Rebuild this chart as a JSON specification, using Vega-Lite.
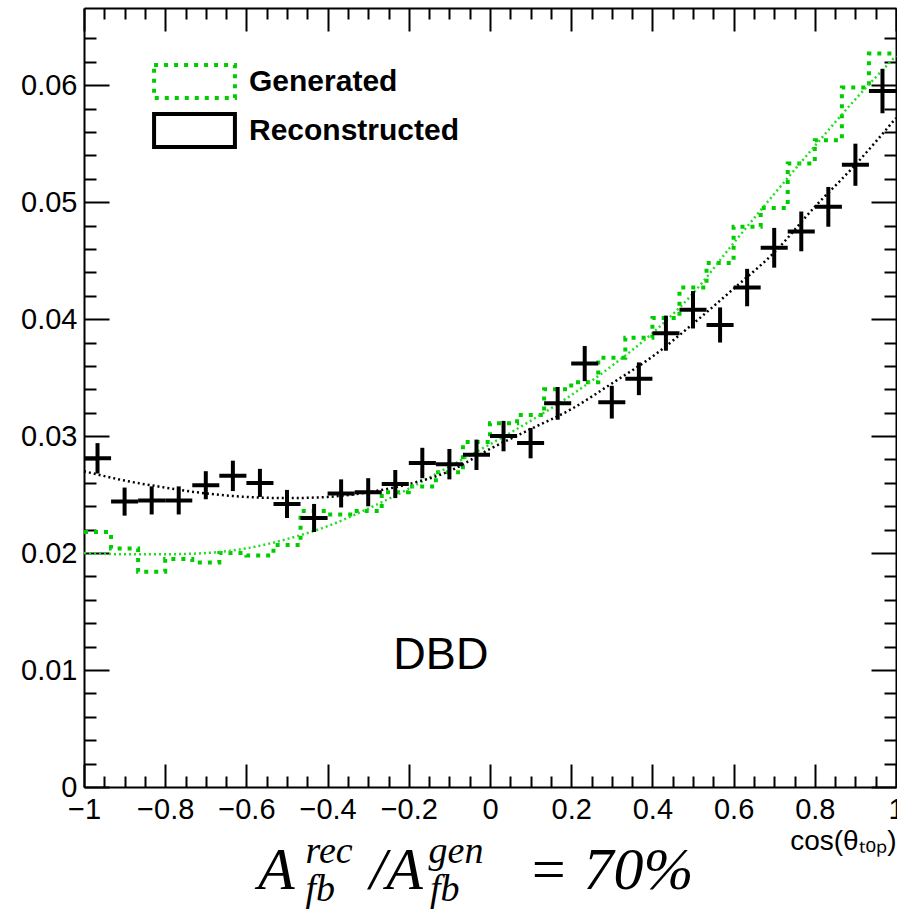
{
  "$schema": "https://vega.github.io/schema/vega-lite/v6.json",
  "width": 812,
  "height": 779,
  "autosize": {"type": "none"},
  "padding": {"left": 84, "top": 8, "right": 1, "bottom": 123},
  "background": "white",
  "config": {
    "view": {"stroke": null},
    "axis": {"labelFont": "Liberation Sans", "titleFont": "Liberation Sans", "labelColor": "black", "titleColor": "black", "domainColor": "black", "tickColor": "black", "domainWidth": 2, "tickWidth": 2, "grid": false, "labelFlush": false, "labelOverlap": false, "labelBound": false}
  },
  "title": {
    "text": "A\u2003\u00a0/A\u2003\u2002\u00a0=\u00a070%",
    "subtitle": ["\u200b\u2003\u00a0rec\u2003\u2003gen", "\u200b\u2003\u00a0fb\u2003\u2003\u2002fb"],
    "orient": "bottom",
    "anchor": "start",
    "frame": "group",
    "dx": 174,
    "offset": -13,
    "font": "Liberation Serif",
    "fontStyle": "italic",
    "fontWeight": "normal",
    "fontSize": 60,
    "color": "black",
    "subtitleFont": "Liberation Serif",
    "subtitleFontStyle": "italic",
    "subtitleFontWeight": "normal",
    "subtitleFontSize": 38,
    "subtitleLineHeight": 38,
    "subtitleColor": "black",
    "subtitlePadding": -69
  },
  "datasets": {
    "gen": [
      {"lo": -1, "v": 0.0218}, {"lo": -0.9333, "v": 0.0204}, {"lo": -0.8667, "v": 0.0184}, {"lo": -0.8, "v": 0.0195},
      {"lo": -0.7333, "v": 0.0192}, {"lo": -0.6667, "v": 0.0200}, {"lo": -0.6, "v": 0.0198}, {"lo": -0.5333, "v": 0.0207},
      {"lo": -0.4667, "v": 0.0236}, {"lo": -0.4, "v": 0.0233}, {"lo": -0.3333, "v": 0.0236}, {"lo": -0.2667, "v": 0.0252},
      {"lo": -0.2, "v": 0.0257}, {"lo": -0.1333, "v": 0.0269}, {"lo": -0.0667, "v": 0.0295}, {"lo": 0, "v": 0.0311},
      {"lo": 0.0667, "v": 0.0318}, {"lo": 0.1333, "v": 0.0340}, {"lo": 0.2, "v": 0.0346}, {"lo": 0.2667, "v": 0.0367},
      {"lo": 0.3333, "v": 0.0384}, {"lo": 0.4, "v": 0.0401}, {"lo": 0.4667, "v": 0.0427}, {"lo": 0.5333, "v": 0.0448},
      {"lo": 0.6, "v": 0.0479}, {"lo": 0.6667, "v": 0.0495}, {"lo": 0.7333, "v": 0.0533}, {"lo": 0.8, "v": 0.0553},
      {"lo": 0.8667, "v": 0.0598}, {"lo": 0.9333, "v": 0.0627}, {"lo": 1, "v": 0.0627}
    ],
    "genfit": [
      {"c": -1, "v": 0.0200}, {"c": -0.9, "v": 0.0199}, {"c": -0.8, "v": 0.0199}, {"c": -0.7, "v": 0.0200},
      {"c": -0.6, "v": 0.0204}, {"c": -0.5, "v": 0.0212}, {"c": -0.4, "v": 0.0223}, {"c": -0.3, "v": 0.0238},
      {"c": -0.2, "v": 0.0255}, {"c": -0.1, "v": 0.0274}, {"c": 0, "v": 0.0293}, {"c": 0.1, "v": 0.0313},
      {"c": 0.2, "v": 0.0335}, {"c": 0.3, "v": 0.0360}, {"c": 0.4, "v": 0.0388}, {"c": 0.5, "v": 0.0422},
      {"c": 0.6, "v": 0.0465}, {"c": 0.7, "v": 0.0507}, {"c": 0.8, "v": 0.0548}, {"c": 0.9, "v": 0.0588},
      {"c": 1, "v": 0.0625}
    ],
    "recfit": [
      {"c": -1, "v": 0.0270}, {"c": -0.9, "v": 0.0262}, {"c": -0.8, "v": 0.0256}, {"c": -0.7, "v": 0.0251},
      {"c": -0.6, "v": 0.0248}, {"c": -0.5, "v": 0.0247}, {"c": -0.4, "v": 0.0248}, {"c": -0.3, "v": 0.0252},
      {"c": -0.2, "v": 0.0259}, {"c": -0.1, "v": 0.0270}, {"c": 0, "v": 0.0289}, {"c": 0.1, "v": 0.0306},
      {"c": 0.2, "v": 0.0323}, {"c": 0.3, "v": 0.0345}, {"c": 0.4, "v": 0.0368}, {"c": 0.5, "v": 0.0396},
      {"c": 0.6, "v": 0.0426}, {"c": 0.7, "v": 0.0457}, {"c": 0.8, "v": 0.0496}, {"c": 0.9, "v": 0.0532},
      {"c": 1, "v": 0.0572}
    ],
    "rec": [
      {"lo": -1, "hi": -0.9333, "c": -0.9667, "v": 0.0281, "ylo": 0.0268, "yhi": 0.0294},
      {"lo": -0.9333, "hi": -0.8667, "c": -0.9, "v": 0.0244, "ylo": 0.0232, "yhi": 0.0256},
      {"lo": -0.8667, "hi": -0.8, "c": -0.8333, "v": 0.0245, "ylo": 0.0233, "yhi": 0.0257},
      {"lo": -0.8, "hi": -0.7333, "c": -0.7667, "v": 0.0245, "ylo": 0.0233, "yhi": 0.0257},
      {"lo": -0.7333, "hi": -0.6667, "c": -0.7, "v": 0.0258, "ylo": 0.0246, "yhi": 0.0270},
      {"lo": -0.6667, "hi": -0.6, "c": -0.6333, "v": 0.0266, "ylo": 0.0253, "yhi": 0.0279},
      {"lo": -0.6, "hi": -0.5333, "c": -0.5667, "v": 0.0260, "ylo": 0.0248, "yhi": 0.0272},
      {"lo": -0.5333, "hi": -0.4667, "c": -0.5, "v": 0.0242, "ylo": 0.0230, "yhi": 0.0254},
      {"lo": -0.4667, "hi": -0.4, "c": -0.4333, "v": 0.0230, "ylo": 0.0218, "yhi": 0.0242},
      {"lo": -0.4, "hi": -0.3333, "c": -0.3667, "v": 0.0251, "ylo": 0.0239, "yhi": 0.0263},
      {"lo": -0.3333, "hi": -0.2667, "c": -0.3, "v": 0.0252, "ylo": 0.0240, "yhi": 0.0264},
      {"lo": -0.2667, "hi": -0.2, "c": -0.2333, "v": 0.0259, "ylo": 0.0247, "yhi": 0.0271},
      {"lo": -0.2, "hi": -0.1333, "c": -0.1667, "v": 0.0277, "ylo": 0.0264, "yhi": 0.0290},
      {"lo": -0.1333, "hi": -0.0667, "c": -0.1, "v": 0.0276, "ylo": 0.0263, "yhi": 0.0289},
      {"lo": -0.0667, "hi": 0, "c": -0.0333, "v": 0.0284, "ylo": 0.0271, "yhi": 0.0297},
      {"lo": 0, "hi": 0.0667, "c": 0.0333, "v": 0.0300, "ylo": 0.0287, "yhi": 0.0313},
      {"lo": 0.0667, "hi": 0.1333, "c": 0.1, "v": 0.0294, "ylo": 0.0281, "yhi": 0.0307},
      {"lo": 0.1333, "hi": 0.2, "c": 0.1667, "v": 0.0328, "ylo": 0.0314, "yhi": 0.0342},
      {"lo": 0.2, "hi": 0.2667, "c": 0.2333, "v": 0.0362, "ylo": 0.0347, "yhi": 0.0377},
      {"lo": 0.2667, "hi": 0.3333, "c": 0.3, "v": 0.0329, "ylo": 0.0315, "yhi": 0.0343},
      {"lo": 0.3333, "hi": 0.4, "c": 0.3667, "v": 0.0349, "ylo": 0.0335, "yhi": 0.0363},
      {"lo": 0.4, "hi": 0.4667, "c": 0.4333, "v": 0.0388, "ylo": 0.0373, "yhi": 0.0403},
      {"lo": 0.4667, "hi": 0.5333, "c": 0.5, "v": 0.0408, "ylo": 0.0392, "yhi": 0.0424},
      {"lo": 0.5333, "hi": 0.6, "c": 0.5667, "v": 0.0395, "ylo": 0.0380, "yhi": 0.0410},
      {"lo": 0.6, "hi": 0.6667, "c": 0.6333, "v": 0.0427, "ylo": 0.0411, "yhi": 0.0443},
      {"lo": 0.6667, "hi": 0.7333, "c": 0.7, "v": 0.0461, "ylo": 0.0444, "yhi": 0.0478},
      {"lo": 0.7333, "hi": 0.8, "c": 0.7667, "v": 0.0475, "ylo": 0.0458, "yhi": 0.0492},
      {"lo": 0.8, "hi": 0.8667, "c": 0.8333, "v": 0.0496, "ylo": 0.0479, "yhi": 0.0513},
      {"lo": 0.8667, "hi": 0.9333, "c": 0.9, "v": 0.0532, "ylo": 0.0514, "yhi": 0.0550},
      {"lo": 0.9333, "hi": 1, "c": 0.9667, "v": 0.0595, "ylo": 0.0576, "yhi": 0.0614}
    ],
    "ann": [{"x": -0.121, "y": 0.0113, "label": "DBD"}]
  },
  "layer": [
    {
      "data": {"name": "gen"},
      "mark": {"type": "line", "interpolate": "step-after", "strokeWidth": 4, "strokeCap": "butt"},
      "encoding": {
        "x": {"field": "lo", "type": "quantitative", "scale": {"domain": [-1, 1], "nice": false, "zero": false},
          "axis": {"orient": "bottom", "values": [-1, -0.8, -0.6, -0.4, -0.2, 0, 0.2, 0.4, 0.6, 0.8, 1], "format": "~g", "ticks": false, "domain": true, "labelFontSize": 29, "labelPadding": 8, "title": "cos(θₜₒₚ)", "titleAnchor": "end", "titleFontSize": 28, "titleFontWeight": "normal", "titlePadding": 3}},
        "y": {"field": "v", "type": "quantitative", "scale": {"domain": [0, 0.0666], "nice": false, "zero": false},
          "axis": {"orient": "left", "values": [0, 0.01, 0.02, 0.03, 0.04, 0.05, 0.06], "format": "~g", "ticks": false, "domain": true, "labelFontSize": 29, "labelPadding": 7, "title": null}},
        "color": {"datum": "Generated", "scale": {"domain": ["Generated", "Reconstructed"], "range": ["#00cc00", "black"]},
          "legend": {"orient": "none", "legendX": 92, "legendY": 55, "title": null, "padding": 0, "symbolType": "M-2.45,-1H2.45V1H-2.45Z", "symbolSize": 1089, "symbolStrokeWidth": 4, "symbolFillColor": "transparent", "labelFont": "Liberation Sans", "labelFontWeight": "bold", "labelFontSize": 30, "labelColor": "black", "labelOffset": 36, "labelLimit": 0, "rowPadding": 0}},
        "strokeDash": {"datum": "Generated", "scale": {"domain": ["Generated", "Reconstructed"], "range": [[4, 6], [1, 0]]}}
      }
    },
    {
      "data": {"name": "genfit"},
      "mark": {"type": "line", "interpolate": "monotone", "color": "#22dd22", "strokeWidth": 2.5, "strokeDash": [2, 3]},
      "encoding": {
        "x": {"field": "c", "type": "quantitative", "scale": {"domain": [-1, 1], "nice": false, "zero": false},
          "axis": {"orient": "bottom", "values": [-1, -0.8, -0.6, -0.4, -0.2, 0, 0.2, 0.4, 0.6, 0.8, 1], "labels": false, "domain": false, "tickSize": -23, "title": null}},
        "y": {"field": "v", "type": "quantitative", "scale": {"domain": [0, 0.0666], "nice": false, "zero": false},
          "axis": {"orient": "left", "values": [0, 0.01, 0.02, 0.03, 0.04, 0.05, 0.06], "labels": false, "domain": false, "tickSize": -25, "title": null}}
      }
    },
    {
      "data": {"name": "recfit"},
      "mark": {"type": "line", "interpolate": "monotone", "color": "black", "strokeWidth": 2.5, "strokeDash": [2, 3]},
      "encoding": {
        "x": {"field": "c", "type": "quantitative", "scale": {"domain": [-1, 1], "nice": false, "zero": false},
          "axis": {"orient": "bottom", "values": [-0.95, -0.9, -0.85, -0.75, -0.7, -0.65, -0.55, -0.5, -0.45, -0.35, -0.3, -0.25, -0.15, -0.1, -0.05, 0.05, 0.1, 0.15, 0.25, 0.3, 0.35, 0.45, 0.5, 0.55, 0.65, 0.7, 0.75, 0.85, 0.9, 0.95], "labels": false, "domain": false, "tickSize": -11, "title": null}},
        "y": {"field": "v", "type": "quantitative", "scale": {"domain": [0, 0.0666], "nice": false, "zero": false},
          "axis": {"orient": "left", "values": [0.002, 0.004, 0.006, 0.008, 0.012, 0.014, 0.016, 0.018, 0.022, 0.024, 0.026, 0.028, 0.032, 0.034, 0.036, 0.038, 0.042, 0.044, 0.046, 0.048, 0.052, 0.054, 0.056, 0.058, 0.062, 0.064], "labels": false, "domain": false, "tickSize": -12, "title": null}}
      }
    },
    {
      "data": {"name": "rec"},
      "mark": {"type": "rule", "color": "black", "strokeWidth": 4},
      "encoding": {
        "x": {"field": "c", "type": "quantitative", "scale": {"domain": [-1, 1], "nice": false, "zero": false},
          "axis": {"orient": "top", "values": [-1, -0.8, -0.6, -0.4, -0.2, 0, 0.2, 0.4, 0.6, 0.8, 1], "labels": false, "domain": true, "tickSize": -23, "title": null}},
        "y": {"field": "ylo", "type": "quantitative", "scale": {"domain": [0, 0.0666], "nice": false, "zero": false},
          "axis": {"orient": "right", "values": [0, 0.01, 0.02, 0.03, 0.04, 0.05, 0.06], "labels": false, "domain": true, "tickSize": -25, "title": null}},
        "y2": {"field": "yhi"}
      }
    },
    {
      "data": {"name": "rec"},
      "mark": {"type": "rule", "strokeWidth": 4},
      "encoding": {
        "x": {"field": "lo", "type": "quantitative", "scale": {"domain": [-1, 1], "nice": false, "zero": false},
          "axis": {"orient": "top", "values": [-0.95, -0.9, -0.85, -0.75, -0.7, -0.65, -0.55, -0.5, -0.45, -0.35, -0.3, -0.25, -0.15, -0.1, -0.05, 0.05, 0.1, 0.15, 0.25, 0.3, 0.35, 0.45, 0.5, 0.55, 0.65, 0.7, 0.75, 0.85, 0.9, 0.95], "labels": false, "domain": false, "tickSize": -11, "title": null}},
        "x2": {"field": "hi"},
        "y": {"field": "v", "type": "quantitative", "scale": {"domain": [0, 0.0666], "nice": false, "zero": false},
          "axis": {"orient": "right", "values": [0.002, 0.004, 0.006, 0.008, 0.012, 0.014, 0.016, 0.018, 0.022, 0.024, 0.026, 0.028, 0.032, 0.034, 0.036, 0.038, 0.042, 0.044, 0.046, 0.048, 0.052, 0.054, 0.056, 0.058, 0.062, 0.064], "labels": false, "domain": false, "tickSize": -12, "title": null}},
        "color": {"datum": "Reconstructed", "scale": {"domain": ["Generated", "Reconstructed"], "range": ["#00cc00", "black"]}},
        "strokeDash": {"datum": "Reconstructed", "scale": {"domain": ["Generated", "Reconstructed"], "range": [[4, 6], [1, 0]]}}
      }
    },
    {
      "data": {"name": "ann"},
      "mark": {"type": "text", "font": "Liberation Sans", "fontSize": 45, "color": "black", "align": "center", "baseline": "middle"},
      "encoding": {
        "x": {"field": "x", "type": "quantitative", "scale": {"domain": [-1, 1], "nice": false, "zero": false}, "axis": null},
        "y": {"field": "y", "type": "quantitative", "scale": {"domain": [0, 0.0666], "nice": false, "zero": false}, "axis": null},
        "text": {"field": "label"}
      }
    }
  ],
  "resolve": {"axis": {"x": "independent", "y": "independent"}}
}
